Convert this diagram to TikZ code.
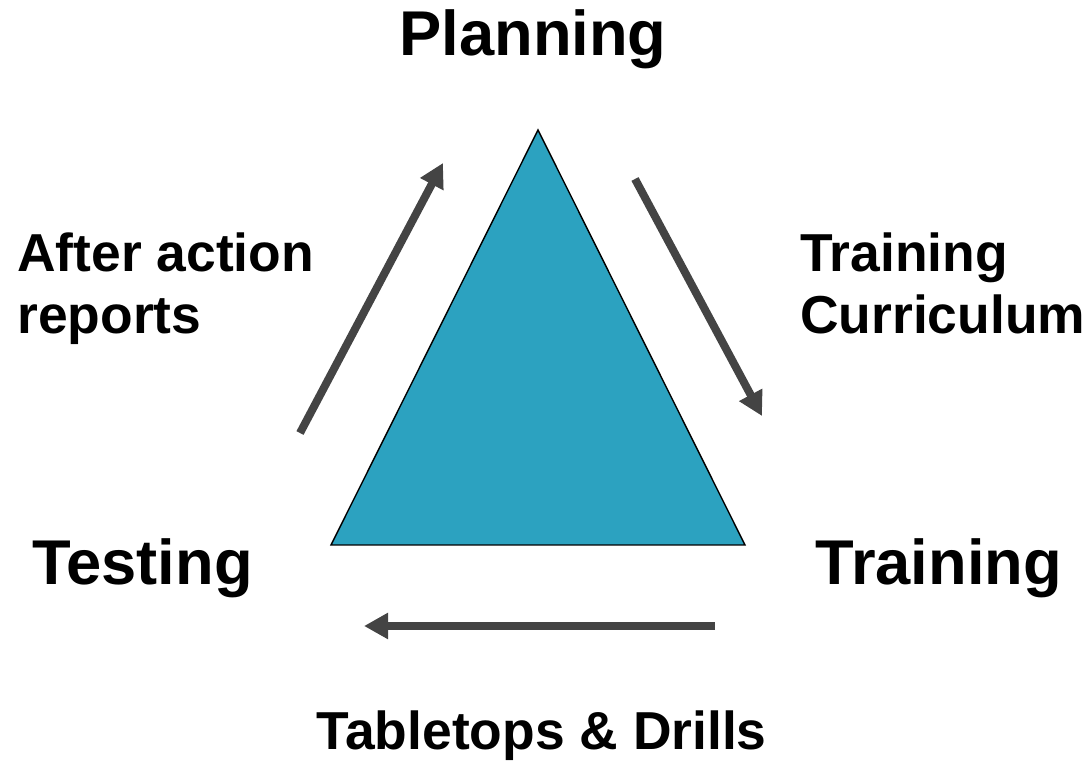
\documentclass[tikz,border=0pt]{standalone}
\usepackage{fontspec}
\setmainfont{Liberation Sans}
\usetikzlibrary{arrows.meta, positioning}
\definecolor{tri}{HTML}{2CA2C0}
\definecolor{arr}{HTML}{444444}

\begin{document}
\begin{tikzpicture}[
    phase/.style={font=\fontsize{45}{53}\selectfont\bfseries, inner sep=0pt},
    note/.style={font=\fontsize{38}{44.5}\selectfont\bfseries, inner sep=0pt, align=left},
    flow/.style={-{Triangle[length=0.6cm, width=0.62cm]}, line width=0.2cm, arr}]

    \useasboundingbox (0,0) rectangle (27.15,19.025);

    % Central triangle
    \coordinate (apex) at (13.45,15.775);
    \coordinate (base left) at (8.275,5.4);
    \coordinate (base right) at (18.625,5.4);
    \draw[fill=tri, line width=1pt] (apex) -- (base left) -- (base right) -- cycle;

    % Phase labels at the corners
    \node[phase, anchor=base] (plan) at (13.325,17.625) {Planning};
    \node[phase, anchor=base] (test) at (3.5625,4.4) {Testing};
    \node[phase, anchor=base] (train) at (23.475,4.4) {Training};

    % Labels on the arrows (base = last line)
    \node[note, anchor=base west] (aar) at (0.425,10.675) {After action\\reports};
    \node[note, anchor=base west] (curr) at (20.0,10.675) {Training\\Curriculum};
    \node[note, anchor=base] (drill) at (13.54,0.275) {Tabletops \& Drills};

    % Arrow end points
    \coordinate (aar start) at (7.5,8.2);
    \coordinate (aar end) at (11.075,14.95);
    \coordinate (curr start) at (15.875,14.55);
    \coordinate (curr end) at (19.05,8.625);
    \coordinate (drill start) at (17.875,3.375);
    \coordinate (drill end) at (9.1,3.375);

    % Cycle arrows
    \draw[flow] (aar start) -- (aar end);
    \draw[flow] (curr start) -- (curr end);
    \draw[flow] (drill start) -- (drill end);

\end{tikzpicture}
\end{document}
